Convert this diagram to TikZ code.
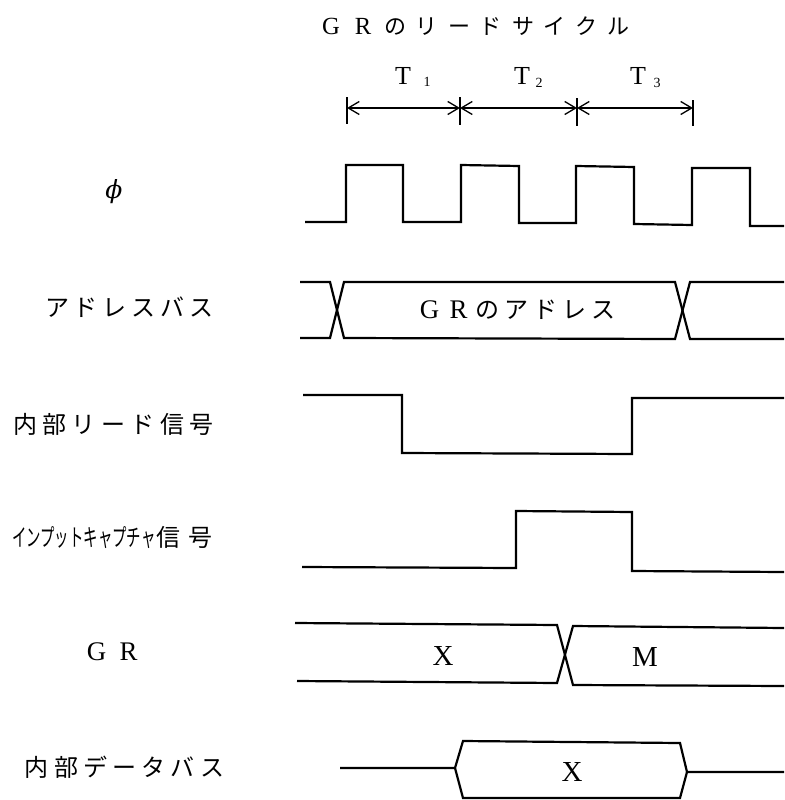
\documentclass[tikz,border=0pt]{standalone}
\usepackage{fontspec}
\usepackage{graphicx}
\usetikzlibrary{arrows.meta}
\newfontfamily\cjk{Noto Sans CJK JP}
\newfontfamily\lat{Liberation Serif}
\newfontfamily\latL[Scale=1.12]{Liberation Serif}
\newfontfamily\phifont{DejaVu Serif}
\makeatletter
\newcommand\spc[2]{\@tfor\spcitem:=#2\do{\makebox[#1]{\spcitem}}}
\makeatother
\tikzset{
  txt/.style={inner sep=0pt, font=\fontsize{24}{28}\selectfont\cjk},
  ttl/.style={inner sep=0pt, font=\fontsize{22}{26}\selectfont\cjk},
  tlab/.style={inner sep=0pt, font=\fontsize{26}{30}\selectfont\lat},
  tsub/.style={inner sep=0pt, font=\fontsize{14}{16}\selectfont\lat},
  val/.style={inner sep=0pt, font=\fontsize{29}{33}\selectfont\lat},
  wave/.style={line width=2.2pt, line join=miter, line cap=butt},
  tickline/.style={line width=1.3pt},
  dim/.style={line width=1.3pt, {Straight Barb[length=11pt,width=13pt]}-{Straight Barb[length=11pt,width=13pt]}}
}
\begin{document}
\begin{tikzpicture}[x=1pt,y=-1pt]
\useasboundingbox (0,0) rectangle (784,800);
\fill[white] (0,0) rectangle (784,800);

% title
\node[ttl] (title) at (475,26) {\spc{32pt}{{\latL G}{\latL R}のリードサイクル}};

% T labels
\node[tlab] (t1) at (403,76) {T};
\node[tsub] (s1) at (427,82) {1};
\node[tlab] (t2) at (522,76) {T};
\node[tsub] (s2) at (539,83) {2};
\node[tlab] (t3) at (638,76) {T};
\node[tsub] (s3) at (657,83) {3};

% dimension arrows
\coordinate (a1) at (347,108);
\coordinate (a2) at (460,108);
\coordinate (a3) at (577,108);
\coordinate (a4) at (693,108);
\draw[tickline] (347,97) -- (347,124);
\draw[tickline] (460,97) -- (460,125);
\draw[tickline] (577,98) -- (577,126);
\draw[tickline] (693,100) -- (693,126);
\draw[dim] (a1) -- (a2);
\draw[dim] (a2) -- (a3);
\draw[dim] (a3) -- (a4);

% left labels
\node[inner sep=0pt, font=\fontsize{25}{29}\selectfont\phifont\itshape] (lphi) at (114,192) {ϕ};
\node[txt] (laddr) at (129.5,307) {\spc{29pt}{アドレスバス}};
\node[txt] (lrd) at (113.5,424) {\spc{29.5pt}{内部リード信号}};
\node[txt, anchor=west] (lic) at (12,538) {\scalebox{0.6}[1]{インプットキャプチャ}\hspace{1pt}信\hspace{8pt}号};
\node[txt] (lgr) at (112.5,652) {\spc{32pt}{{\latL G}{\latL R}}};
\node[txt] (ldb) at (124.5,767) {\spc{29.2pt}{内部データバス}};

% phi clock
\draw[wave] (305,222) -- (346,222) -- (346,165) -- (403,165) -- (403,222) -- (461,222)
  -- (461,165) -- (519,166) -- (519,223) -- (576,223) -- (576,166) -- (634,167)
  -- (634,224) -- (692,225) -- (692,168) -- (750,168) -- (750,226) -- (784,226);

% address bus
\draw[wave] (300,282) -- (330,282) -- (344,338) -- (675,339) -- (690,282) -- (784,282);
\draw[wave] (300,338) -- (330,338) -- (344,282) -- (675,282) -- (690,339) -- (784,339);
\node[txt] (vaddr) at (516.5,310) {\spc{29pt}{{\latL G}{\latL R}のアドレス}};

% internal read signal
\draw[wave] (303,395) -- (402,395) -- (402,453) -- (632,454) -- (632,398) -- (784,398);

% input capture signal
\draw[wave] (302,567) -- (516,568) -- (516,511) -- (632,512) -- (632,571) -- (784,572);

% GR
\draw[wave] (295,623) -- (557,625) -- (573,685) -- (784,686);
\draw[wave] (297,681) -- (557,683) -- (573,626) -- (784,628);
\node[val] (vx) at (443,656) {X};
\node[val] (vm) at (645,657) {M};

% internal data bus
\draw[wave] (340,768) -- (455,768) -- (463,741) -- (680,743) -- (687,772) -- (784,772);
\draw[wave] (455,768) -- (463,798) -- (680,798) -- (687,772);
\node[val] (vdx) at (572,772) {X};
\end{tikzpicture}
\end{document}
